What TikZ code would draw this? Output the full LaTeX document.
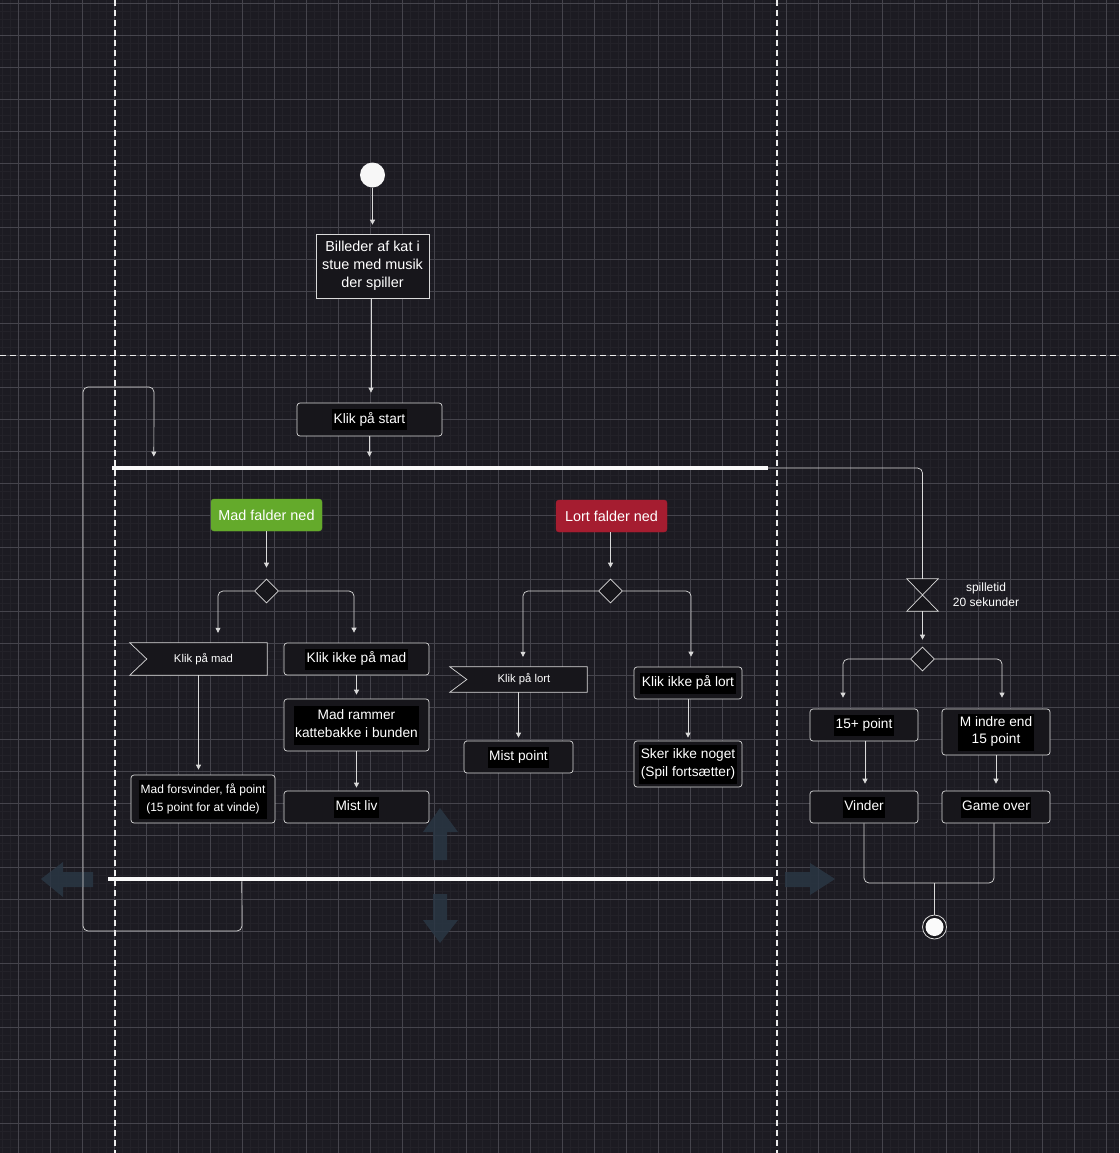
\documentclass[tikz,border=0pt]{standalone}
\usepackage{fontspec}
\setmainfont{Liberation Sans}
\usetikzlibrary{shapes.geometric,arrows.meta}
\definecolor{bg}{HTML}{1C1B22}
\definecolor{gridmaj}{HTML}{45444C}
\definecolor{gridmin}{HTML}{232229}
\definecolor{boxfill}{HTML}{17161B}
\definecolor{lineclr}{HTML}{DADADA}
\definecolor{madgreen}{HTML}{64AA2B}
\definecolor{lortred}{HTML}{A51D30}
\definecolor{ghost}{HTML}{2A3744}
\newcommand\hltxt[1]{{\setlength\fboxsep{1.5pt}\colorbox{black}{\begin{tabular}{@{}c@{}}#1\end{tabular}}}}
\tikzset{
  actbox/.style={draw=lineclr, fill=boxfill, line width=0.7pt, inner sep=0pt, text=white, font=\fontsize{13.7}{18}\selectfont},
  ractbox/.style={actbox, rounded corners=3pt},
  conn/.style={draw=lineclr, line width=0.7pt, -{Triangle[length=5pt,width=5pt]}},
  lineonly/.style={draw=lineclr, line width=0.7pt},
  decnode/.style={diamond, draw=lineclr, fill=boxfill, line width=0.7pt, minimum width=24pt, minimum height=24pt, inner sep=0pt},
  barnode/.style={fill=white!95!gray, inner sep=0pt, minimum height=4.5pt},
  lane/.style={draw=white!85!gray, line width=1.4pt, dash pattern=on 6pt off 4pt},
  ghostarrow/.style={fill=ghost, opacity=0.85},
  sigframe/.style={draw=lineclr, fill=boxfill, line width=0.7pt},
  sigtext/.style={inner sep=0pt, text=white, font=\fontsize{11.3}{13}\selectfont},
  colbox/.style={rounded corners=3pt, inner sep=0pt, text=white, font=\fontsize{14.4}{18}\selectfont, minimum width=111pt, minimum height=32pt},
}
\begin{document}
\begin{tikzpicture}[x=1pt,y=-1pt]
% background and grid
\fill[bg] (0,0) rectangle (1119,1153);
\useasboundingbox (0,0) rectangle (1119,1153);
\foreach \x in {2,10,...,1119} \draw[gridmin, line width=0.5pt] (\x,0) -- (\x,1153);
\foreach \y in {3,11,...,1153} \draw[gridmin, line width=0.5pt] (0,\y) -- (1119,\y);
\foreach \x in {18,50,...,1119} \draw[gridmaj, line width=0.8pt] (\x,0) -- (\x,1153);
\foreach \y in {3,35,...,1153} \draw[gridmaj, line width=0.8pt] (0,\y) -- (1119,\y);
% swimlane separators
\draw[lane] (115,0) -- (115,1153);
\draw[lane] (777,0) -- (777,1153);
\draw[lane] (0,355.5) -- (1119,355.5);
% faint move arrows
\fill[ghostarrow] (41,879) -- (63,862) -- (63,872) -- (93,872) -- (93,887) -- (63,887) -- (63,897) -- cycle;
\fill[ghostarrow] (440,808) -- (458,832) -- (447,832) -- (447,860) -- (433,860) -- (433,832) -- (423,832) -- cycle;
\fill[ghostarrow] (440,943) -- (458,920) -- (447,920) -- (447,894) -- (433,894) -- (433,920) -- (423,920) -- cycle;
\fill[ghostarrow] (835,879) -- (810,863) -- (810,872) -- (785,872) -- (785,887) -- (810,887) -- (810,895) -- cycle;

% ---- nodes ----
\node[circle, fill=white!94!gray, minimum size=25pt, inner sep=0pt] (start) at (372.5,175) {};
\node[actbox, minimum width=113pt, minimum height=64pt, align=center, font=\fontsize{14.4}{18}\selectfont] (bil) at (372.5,266) {Billeder af kat i\\stue med musik\\der spiller};
\node[ractbox, minimum width=145pt, minimum height=33pt] (kps) at (369.5,419.5) {\hltxt{Klik på start}};
\node[barnode, minimum width=656pt] (bar1) at (440,468) {};
\node[barnode, minimum width=665pt] (bar2) at (440.5,879) {};

% Mad lane
\node[colbox, fill=madgreen, draw=madgreen] (mfn) at (266.5,515) {Mad falder ned};
\node[decnode] (d1) at (266.5,591) {};
\node[inner sep=0pt, minimum width=137pt, minimum height=32pt] (kpm) at (198.5,659) {};
\draw[sigframe] (kpm.north west) -- (kpm.north east) -- (kpm.south east) -- (kpm.south west) -- ([xshift=17pt]kpm.west) -- cycle;
\node[sigtext] (kpmt) at ([xshift=5pt]kpm.center) {Klik på mad};
\node[ractbox, minimum width=145pt, minimum height=32pt] (kip) at (356.5,659) {\hltxt{Klik ikke på mad}};
\node[ractbox, minimum width=145pt, minimum height=52pt] (mr) at (356.5,725) {\hltxt{Mad rammer\\kattebakke i bunden}};
\node[ractbox, minimum width=145pt, minimum height=32pt] (ml) at (356.5,807) {\hltxt{Mist liv}};
\node[ractbox, minimum width=144pt, minimum height=48pt, font=\fontsize{12}{18}\selectfont] (mf) at (203,799) {\hltxt{Mad forsvinder, få point\\(15 point for at vinde)}};

% Lort lane
\node[colbox, fill=lortred, draw=lortred] (lfn) at (611.5,516) {Lort falder ned};
\node[decnode] (d2) at (610.5,591) {};
\node[inner sep=0pt, minimum width=137pt, minimum height=25pt] (kpl) at (518.5,679.5) {};
\draw[sigframe] (kpl.north west) -- (kpl.north east) -- (kpl.south east) -- (kpl.south west) -- ([xshift=17pt]kpl.west) -- cycle;
\node[sigtext] (kplt) at ([xshift=5.5pt]kpl.center) {Klik på lort};
\node[ractbox, minimum width=108pt, minimum height=32pt] (kil) at (688,683) {\hltxt{Klik ikke på lort}};
\node[ractbox, minimum width=109pt, minimum height=32pt] (mp) at (518.5,757) {\hltxt{Mist point}};
\node[ractbox, minimum width=108pt, minimum height=46pt] (sk) at (688,764) {\hltxt{Sker ikke noget\\(Spil fortsætter)}};

% Right lane
\node[inner sep=0pt, minimum width=31pt, minimum height=32pt] (tmr) at (922.5,595) {};
\draw[sigframe] (tmr.north west) -- (tmr.north east) -- (tmr.south west) -- (tmr.south east) -- cycle;
\node[font=\fontsize{12}{15}\selectfont, text=white, align=center, inner sep=0pt] (tmrlbl) at (986,594.5) {spilletid\\20 sekunder};
\node[decnode] (d3) at (922.5,659) {};
\node[ractbox, minimum width=108pt, minimum height=32pt] (p15) at (864,725) {\hltxt{15+ point}};
\node[ractbox, minimum width=108pt, minimum height=46pt, font=\fontsize{13.7}{17}\selectfont] (mi) at (996,732) {\hltxt{M indre end\\15 point}};
\node[ractbox, minimum width=108pt, minimum height=32pt] (vin) at (864,807) {\hltxt{Vinder}};
\node[ractbox, minimum width=108pt, minimum height=32pt] (go) at (996,807) {\hltxt{Game over}};
\node[circle, draw=lineclr, line width=0.8pt, fill=boxfill, minimum size=24pt, inner sep=0pt] (fin) at (934.5,927) {};
\node[circle, fill=white!96!gray, minimum size=18pt, inner sep=0pt] (fini) at (fin.center) {};
\coordinate (mj) at (934.5,883);

% ---- connectors ----
\draw[conn, shorten >=9pt] (start) -- (bil.north);
\draw[conn, shorten >=10pt] ([xshift=-1.5pt]bil.south) -- ([xshift=1.5pt]kps.north);
\draw[conn, shorten >=9pt] (kps.south) -- (kps.south |- bar1.north);
\draw[conn, rounded corners=5pt, shorten >=9pt] ([xshift=134pt]bar2.south west) -- (242,931) -- (83,931) -- (83,387) -- (154,387) -- ([xshift=42pt]bar1.north west);
\draw[lineonly, rounded corners=5pt] (bar1.east) -| (tmr.north);

\draw[conn, shorten >=11pt] (mfn.south) -- (d1.north);
\draw[conn, rounded corners=5pt] (d1.west) -| ([xshift=19.5pt,yshift=10pt]kpm.north);
\draw[conn, rounded corners=5pt] (d1.east) -| ([xshift=-2.5pt,yshift=10pt]kip.north);
\draw[conn, shorten >=5pt] (kpm.south) -- (kpm.south |- mf.north);
\draw[conn, shorten >=4pt] (kip.south) -- (mr.north);
\draw[conn, shorten >=3pt] (mr.south) -- (ml.north);

\draw[conn, shorten >=11pt] ([xshift=-1pt]lfn.south) -- (d2.north);
\draw[conn, rounded corners=5pt] (d2.west) -| ([xshift=4.5pt,yshift=10pt]kpl.north);
\draw[conn, rounded corners=5pt] (d2.east) -| ([xshift=3pt,yshift=10pt]kil.north);
\draw[conn, shorten >=3pt] (kpl.south) -- (mp.north);
\draw[conn, shorten >=3pt] (kil.south) -- (sk.north);

\draw[conn, shorten >=7pt] (tmr.south) -- (d3.north);
\draw[conn, rounded corners=5pt] (d3.west) -| ([xshift=-21pt,yshift=11pt]p15.north);
\draw[conn, rounded corners=5pt] (d3.east) -| ([xshift=6pt,yshift=11pt]mi.north);
\draw[conn, shorten >=7pt] ([xshift=1pt]p15.south) -- ([xshift=1pt]vin.north);
\draw[conn, shorten >=7pt] (mi.south) -- (go.north);
\draw[lineonly, rounded corners=5pt] (vin.south) -- (864,883) -| ([xshift=-2pt]go.south);
\draw[lineonly] (mj) -- (fin.north);
\end{tikzpicture}
\end{document}
